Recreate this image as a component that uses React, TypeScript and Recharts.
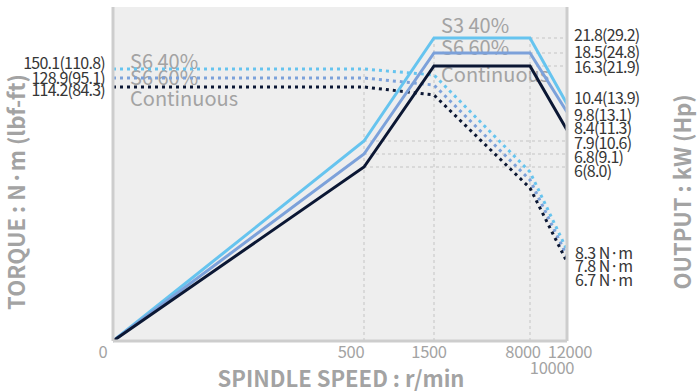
import { CartesianGrid, Customized, Line, LineChart, ReferenceLine, XAxis, YAxis } from 'recharts';

const FONT = '"Noto Sans CJK JP", "Noto Sans", sans-serif';
const LIGHT = '#66c4ef';
const MID = '#7ca1da';
const NAVY = '#0b1734';
const GRID = '#c4c4c4';
const AXIS = '#cdcdcd';
const MUTED = '#a3a3a3';
const INK = '#363636';

// spindle speed, r/min
const speeds = [0, 500, 1500, 8000, 12000];

// output, kW
const outputS3_40 = [0, 7.9, 21.8, 21.8, 10.4];
const outputS6_60 = [0, 6.8, 18.5, 18.5, 9.8];
const outputCont = [0, 6, 16.3, 16.3, 8.4];

// torque, N·m
const torqueS6_40 = [150.1, 150.1, 138.8, 26.0, 8.3];
const torqueS6_60 = [128.9, 128.9, 117.8, 22.1, 7.8];
const torqueCont = [114.2, 114.2, 103.8, 19.5, 6.7];

const speedTicks = [0, 500, 1500, 8000, 10000, 12000];
const torqueTicks = [150.1, 128.9, 114.2];
const torqueTicksLbf = [110.8, 95.1, 84.3];
const outputTicks = [21.8, 18.5, 16.3, 10.4, 9.8, 8.4, 7.9, 6.8, 6];
const outputTicksHp = [29.2, 24.8, 21.9, 13.9, 13.1, 11.3, 10.6, 9.1, 8.0];

// The drawing is schematic: every axis is stretched piecewise between its marked values.
type Knots = [number, number][];
const speedKnots: Knots = [[0, 0], [500, 251], [1500, 321], [8000, 417], [10000, 440], [12000, 454]];
const outputKnots: Knots = [
  [0, 0], [6, 174], [6.8, 187], [7.9, 200], [8.4, 211], [9.8, 229],
  [10.4, 237], [16.3, 275], [18.5, 288], [21.8, 303],
];
const torqueKnots: Knots = [
  [0, 0], [6.7, 79], [7.8, 85], [8.3, 91], [19.5, 153], [22.1, 161], [26, 169],
  [103.8, 246], [114.2, 254], [117.8, 256], [128.9, 263], [138.8, 266], [150.1, 272],
];

function warp(knots: Knots, v: number) {
  for (let i = 1; i < knots.length; i++) {
    const [a, pa] = knots[i - 1];
    const [b, pb] = knots[i];
    if (v <= b) return pa + ((v - a) / (b - a)) * (pb - pa);
  }
  return knots[knots.length - 1][1];
}
const sx = (v: number) => warp(speedKnots, v);
const oy = (v: number) => warp(outputKnots, v);
const ty = (v: number) => warp(torqueKnots, v);

const data = speeds.map((s, i) => ({
  x: sx(s),
  s3: oy(outputS3_40[i]),
  s6: oy(outputS6_60[i]),
  cont: oy(outputCont[i]),
  t40: ty(torqueS6_40[i]),
  t60: ty(torqueS6_60[i]),
  tcont: ty(torqueCont[i]),
}));

// label nudges so the stacked numbers don't collide
const speedDx = [-10, -13, -5, -7, -1, 3];
const torqueDy = [-6, 0, 3];
const outputDy = [-3, -1, 1, -6, 3, -2, 2, 3, 4];
const endDy = [3, 10, 18];

const nearest = (list: number[], v: number) => {
  let best = 0;
  list.forEach((t, i) => {
    if (Math.abs(t - v) < Math.abs(list[best] - v)) best = i;
  });
  return best;
};

const SpeedTick = (p: any) => {
  const i = nearest(speedTicks.map(sx), p.payload.value);
  const low = speedTicks[i] === 10000;
  return (
    <text x={p.x + speedDx[i]} y={low ? 374 : 358} textAnchor="middle" fill={MUTED} fontSize={16.5} letterSpacing={-0.3} fontFamily={FONT}>
      {speedTicks[i]}
    </text>
  );
};

const TorqueTick = (p: any) => {
  const i = nearest(torqueTicks.map(ty), p.payload.value);
  return (
    <text x={105} y={p.y + torqueDy[i]} dy="0.36em" textAnchor="end" fill={INK} fontSize={16} letterSpacing={-0.75} fontFamily={FONT}>
      {`${torqueTicks[i]}(${torqueTicksLbf[i]})`}
    </text>
  );
};

const OutputTick = (p: any) => {
  const i = nearest(outputTicks.map(oy), p.payload.value);
  return (
    <text x={574} y={p.y + outputDy[i]} dy="0.36em" textAnchor="start" fill={INK} fontSize={16} letterSpacing={-0.75} fontFamily={FONT}>
      {`${outputTicks[i]}(${outputTicksHp[i].toFixed(1)})`}
    </text>
  );
};

const endLabel = (values: number[], k: number) => (p: any) => {
  if (p.index !== speeds.length - 1) return null;
  const x = p.x ?? p.viewBox?.x;
  const y = p.y ?? p.viewBox?.y;
  return (
    <text key="end" x={x + 8} y={y + endDy[k]} dy="0.36em" fill={INK} fontSize={16} letterSpacing={-0.5} fontFamily={FONT}>
      {`${values[values.length - 1]} N·m`}
    </text>
  );
};

const Annotations = () => (
  <g fontFamily={FONT}>
    <g fill={MUTED} fontSize={20}>
      <text x={130} y={69}>S6 40%</text>
      <text x={130} y={85}>S6 60%</text>
      <text x={130} y={106}>Continuous</text>
      <text x={441} y={33}>S3 40%</text>
      <text x={441} y={55}>S6 60%</text>
      <text x={441} y={82}>Continuous</text>
    </g>
    <g fill={MUTED} fontSize={22} fontWeight="bold" textAnchor="middle">
      <text x={341} y={387}>SPINDLE SPEED : r/min</text>
      <text transform="translate(25,192) rotate(-90)">TORQUE : N·m (lbf-ft)</text>
      <text transform="translate(691,192) rotate(-90)">OUTPUT : kW (Hp)</text>
    </g>
  </g>
);

const dash = { stroke: GRID, strokeDasharray: '3 3', strokeWidth: 1 };

export default function App() {
  const xEnd = sx(12000);
  return (
    <div style={{ position: 'absolute', left: 0, top: 0 }}>
      <LineChart width={697} height={392} data={data} margin={{ top: 7, right: 129, bottom: 50, left: 112 }}>
        <CartesianGrid fill="#eeeeee" horizontal={false} vertical={false} />
        <XAxis
          dataKey="x"
          type="number"
          domain={[0, 454]}
          ticks={speedTicks.map(sx)}
          interval={0}
          height={1}
          tickLine={false}
          axisLine={{ stroke: AXIS, strokeWidth: 3 }}
          tick={SpeedTick}
        />
        <YAxis
          yAxisId="torque"
          type="number"
          domain={[0, 334]}
          ticks={torqueTicks.map(ty)}
          interval={0}
          width={1}
          tickLine={false}
          axisLine={{ stroke: AXIS, strokeWidth: 3 }}
          tick={TorqueTick}
        />
        <YAxis
          yAxisId="output"
          orientation="right"
          type="number"
          domain={[0, 334]}
          ticks={outputTicks.map(oy)}
          interval={0}
          width={1}
          tickLine={false}
          axisLine={{ stroke: AXIS, strokeWidth: 3 }}
          tick={OutputTick}
        />

        {[21.8, 18.5, 16.3].map((v) => (
          <ReferenceLine key={v} yAxisId="output" segment={[{ x: sx(1500), y: oy(v) }, { x: xEnd, y: oy(v) }]} {...dash} />
        ))}
        {[7.9, 6.8, 6].map((v) => (
          <ReferenceLine key={v} yAxisId="output" segment={[{ x: sx(500), y: oy(v) }, { x: xEnd, y: oy(v) }]} {...dash} />
        ))}
        <ReferenceLine yAxisId="torque" segment={[{ x: sx(500), y: 0 }, { x: sx(500), y: ty(150.1) }]} {...dash} />
        {[1500, 8000].map((s) => (
          <ReferenceLine key={s} yAxisId="output" segment={[{ x: sx(s), y: 0 }, { x: sx(s), y: oy(21.8) }]} {...dash} />
        ))}

        <Line yAxisId="torque" type="linear" dataKey="t40" stroke={LIGHT} strokeWidth={3} strokeDasharray="3 4" dot={false} isAnimationActive={false} label={endLabel(torqueS6_40, 0)} />
        <Line yAxisId="torque" type="linear" dataKey="t60" stroke={MID} strokeWidth={3} strokeDasharray="3 4" dot={false} isAnimationActive={false} label={endLabel(torqueS6_60, 1)} />
        <Line yAxisId="torque" type="linear" dataKey="tcont" stroke={NAVY} strokeWidth={3} strokeDasharray="3 4" dot={false} isAnimationActive={false} label={endLabel(torqueCont, 2)} />

        <Line yAxisId="output" type="linear" dataKey="s3" stroke={LIGHT} strokeWidth={3} dot={false} isAnimationActive={false} />
        <Line yAxisId="output" type="linear" dataKey="s6" stroke={MID} strokeWidth={3} dot={false} isAnimationActive={false} />
        <Line yAxisId="output" type="linear" dataKey="cont" stroke={NAVY} strokeWidth={3} dot={false} isAnimationActive={false} />

        <Customized component={Annotations} />
      </LineChart>
    </div>
  );
}
